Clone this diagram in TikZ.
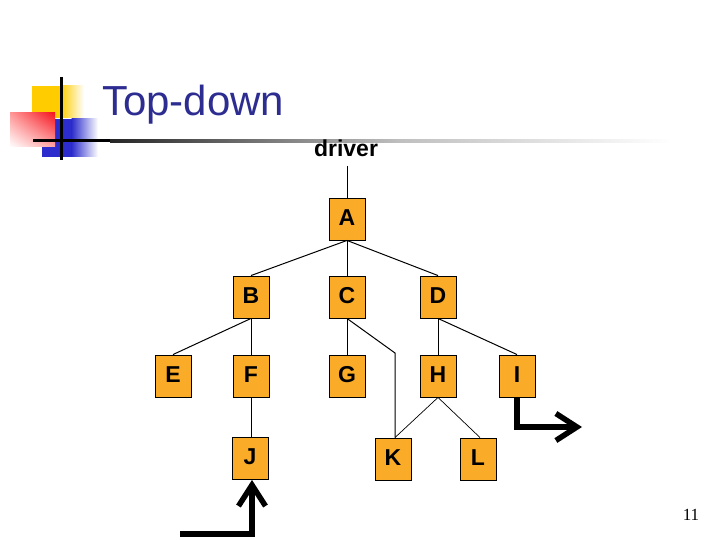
\documentclass[tikz,border=0pt]{standalone}
\usepackage{fontspec}
\setmainfont{Liberation Sans}
\newfontfamily\serifnum{Liberation Serif}
\usetikzlibrary{arrows.meta,shadings}
\definecolor{boxorange}{RGB}{250,172,40}
\definecolor{titleblue}{RGB}{45,45,145}
\definecolor{logoyellow}{RGB}{255,204,0}
\definecolor{logoblue}{RGB}{45,45,205}
\definecolor{logored}{RGB}{245,20,30}
\tikzset{
  modbox/.style={draw=black, line width=0.9pt, fill=boxorange, minimum width=36pt, minimum height=42pt, inner sep=0pt, text depth=3pt, font=\fontsize{23}{23}\selectfont\bfseries},
  link/.style={line width=1pt, draw=black},
  thinlink/.style={line width=0.7pt, draw=black},
  bigarrow/.style={line width=5.5pt, line join=miter, -{Straight Barb[length=21pt, width=27pt, line width=5.5pt]}}
}
\begin{document}
\begin{tikzpicture}[x=1pt,y=-1pt]
\useasboundingbox (0,0) rectangle (720,540);
% logo
\fill[logoyellow] (32,86) rectangle (61,118);
\shade[left color=logoyellow, right color=white] (60.5,86) rectangle (84,118);
\fill[logoblue] (42,119) rectangle (72,157);
\shade[left color=logoblue, right color=white] (71.5,119) rectangle (98,157);
\shade[upper right=logored, upper left=red!40, lower left=white, lower right=red!35] (10,113) rectangle (55,147);
\draw[line width=3pt] (61,77) -- (61,160);
\draw[line width=3pt] (33,141) -- (110,141);
\shade[left color=black!85, right color=black!25] (110,139.5) rectangle (400,142.5);
\shade[left color=black!25, right color=white] (399.5,139.5) rectangle (672,142.5);
% title
\node[anchor=base west, inner sep=0pt, text=titleblue, font=\fontsize{42}{42}\selectfont] (title) at (102,116) {Top-down};
% driver
\node[inner sep=0pt, font=\fontsize{23}{23}\selectfont\bfseries, anchor=base] (driver) at (346,157) {driver};
% boxes
\node[modbox] (A) at (347,219) {A};
\node[modbox] (B) at (251,297) {B};
\node[modbox] (C) at (347,297) {C};
\node[modbox] (D) at (438,297) {D};
\node[modbox] (E) at (173,376) {E};
\node[modbox] (F) at (251,376) {F};
\node[modbox] (G) at (347,376) {G};
\node[modbox] (H) at (438,376) {H};
\node[modbox] (I) at (517,376) {I};
\node[modbox] (J) at (250,458.5) {J};
\node[modbox] (K) at (393,459) {K};
\node[modbox] (L) at (478,459) {L};
\coordinate (drvbot) at (347,166);
\coordinate (ckbend) at (395,353);
\coordinate (jstart) at (180,534);
\coordinate (jcorner) at (252,534);
\coordinate (icorner) at (517,427);
\coordinate (itip) at (582,427);
% connectors
\draw[link] (drvbot) -- (A.north);
\draw[link] (A.south) -- (B.north);
\draw[link] (A.south) -- (C.north);
\draw[link] (A.south) -- (D.north);
\draw[link] (B.south) -- (E.north);
\draw[link] (B.south) -- (F.north);
\draw[link] (C.south) -- (G.north);
\draw[link] (C.south) -- (ckbend) -- (ckbend |- K.north);
\draw[link] (D.south) -- (H.north);
\draw[link] (D.south) -- (I.north);
\draw[link] (F.south) -- (F.south |- J.north);
\draw[thinlink] (H.south) -- (ckbend |- K.north);
\draw[thinlink] (H.south) -- ([xshift=2pt]L.north);
% big arrows
\draw[bigarrow] (jstart) -- (jcorner) -- (jcorner |- J.south);
\draw[bigarrow] (I.south) -- (icorner) -- (itip);
% page number
\node[font=\serifnum\fontsize{17}{17}\selectfont, inner sep=0pt] (pnum) at (691,515) {11};
\end{tikzpicture}
\end{document}
